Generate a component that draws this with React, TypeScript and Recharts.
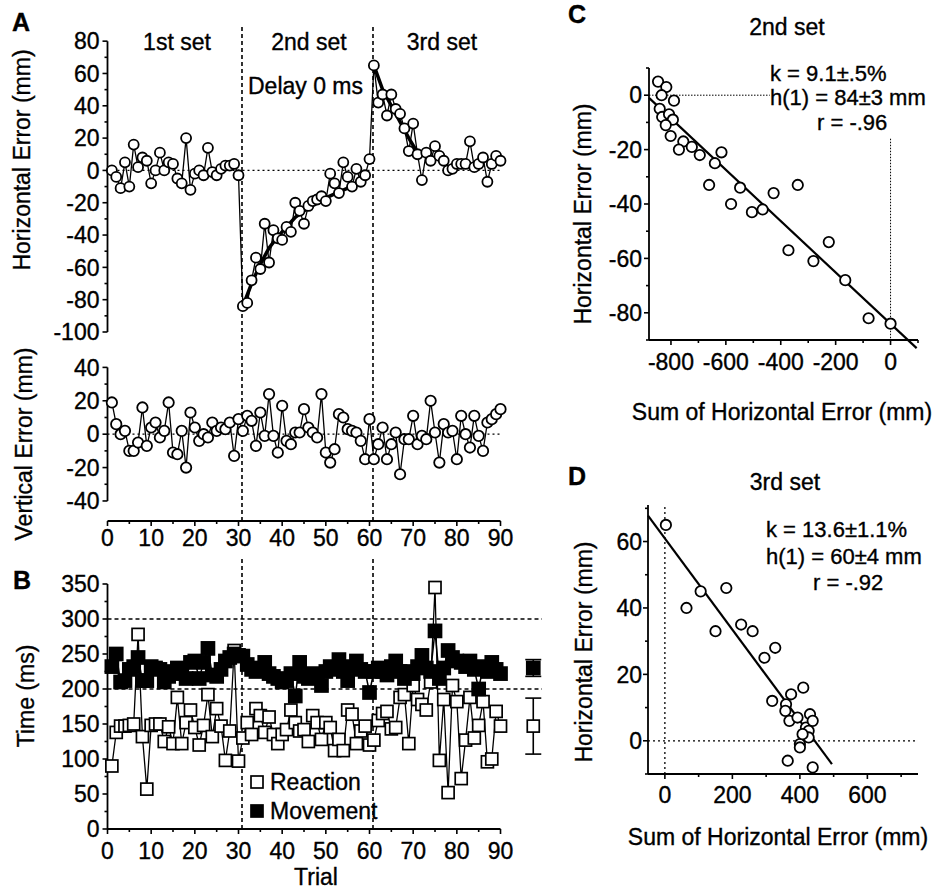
import React from 'react';
import { ComposedChart, ScatterChart, Line, Scatter, XAxis, YAxis, ReferenceLine, ErrorBar } from 'recharts';

const FONT = '"Liberation Sans", Arial, Helvetica, sans-serif';

// ---------- Panel A : horizontal error per trial (mm) ----------
const horizSet1 = [0, -4, -11, 5, -10, 16, 2, 8, 6, -8, 0, 11, 0, 5, 4, -5, -8, 20, -12, -2, 0, -3, 14, -1, -3, 1, 3, 3, 4, -3];
const horizSet2 = [-84, -82, -68, -54, -61, -33, -57, -37, -42, -43, -35, -38, -20, -25, -33, -22, -19, -18, -16, -19, -2, -8, -14, 5, -4, -10, 1, -7, -3, 7];
const horizSet3 = [65, 42, 47, 34, 47, 38, 35, 26, 12, 29, 10, -6, 11, 6, 15, 9, 6, 0, 1, 4, 4, 4, 18, 2, 4, 8, -7, 4, 9, 6];
const fit2Trials = [31, 33, 35, 37, 39, 41, 43, 46, 50, 55, 59];
const fit2Values = [-84, -70, -58, -48, -41, -35, -29, -23, -17, -11, -6];
const fit3Trials = [61, 63, 65, 67, 69, 71];
const fit3Values = [65, 50, 40, 30, 20, 11];

// ---------- Panel A : vertical error per trial (mm) ----------
const vertError = [
  19, 6, 0, 2, -10, -10, -5, 16, -7, 4,
  7, -2, 2, 19, -11, -12, 2, -20, 13, 4,
  -4, 0, -2, 7, 2, 4, 3, 7, -13, 9,
  2, 11, 8, -7, 13, -1, 24, -1, -11, 17,
  -4, -6, 1, 1, 15, 4, 1, -2, 24, -11,
  -17, -9, 12, 10, 3, 2, 1, -4, -15, 9,
  -15, -6, 4, -15, -6, 1, -24, -3, -3, 11,
  -6, -1, -3, 20, 1, -17, 6, 1, 2, -15,
  11, 0, -8, 11, -1, -10, 7, 9, 12, 15,
];

// ---------- Panel B : reaction / movement time (ms) ----------
const reactionTime = [
  90, 138, 147, 147, 148, 150, 278, 132, 57, 148,
  150, 150, 125, 146, 122, 188, 122, 152, 170, 145,
  120, 148, 192, 132, 172, 147, 98, 140, 255, 97,
  130, 152, 135, 172, 162, 138, 160, 135, 122, 135,
  142, 170, 152, 140, 142, 125, 162, 152, 128, 152,
  145, 112, 128, 112, 170, 164, 122, 140, 147, 120,
  127, 155, 165, 168, 143, 145, 188, 192, 122, 205,
  185, 178, 170, 210, 345, 98, 185, 52, 205, 182,
  72, 127, 188, 130, 148, 182, 96, 100, 168, 147,
];
const movementTime = [
  232, 250, 210, 212, 228, 232, 245, 212, 212, 232,
  230, 228, 210, 218, 225, 230, 222, 215, 238, 240,
  215, 238, 258, 220, 218, 228, 240, 245, 250, 248,
  247, 235, 228, 225, 230, 238, 222, 218, 215, 210,
  212, 222, 190, 238, 218, 215, 222, 218, 205, 225,
  232, 228, 242, 225, 212, 232, 240, 228, 225, 195,
  225, 230, 225, 220, 232, 240, 225, 215, 225, 222,
  232, 248, 230, 225, 283, 215, 230, 255, 245, 240,
  238, 232, 240, 228, 200, 232, 225, 238, 228, 222,
];
const meanReaction = [{ trial: 97.5, v: 147, err: 40 }];
const meanMovement = [{ trial: 97.5, v: 230, err: 12 }];
const setBoundaries = [30.8, 60.8];

// ---------- Panel C : 2nd set ----------
const sumC = [-847, -817, -834, -789, -841, -832, -807, -793, -819, -801, -755, -771, -724, -695, -640, -616, -661, -548, -581, -505, -466, -426, -338, -372, -281, -225, -165, -80, 0];
const errC = [5, 3, 0, -2, -5, -8, -7, -9, -11, -15, -17, -20, -19, -22, -25, -21, -33, -34, -40, -43, -42, -36, -33, -57, -61, -54, -68, -82, -84];
const regC = [{ x: -880, y: -1 }, { x: 95, y: -93 }];

// ---------- Panel D : 3rd set ----------
const sumD = [3, 64, 106, 150, 182, 226, 260, 295, 327, 318, 359, 374, 410, 357, 369, 393, 418, 430, 438, 426, 426, 400, 400, 408, 364, 438];
const errD = [65, 40, 45, 33, 46, 35, 33, 25, 28, 12, 11, 14, 16, 9, 6, 7, 4, 8, 6, 3, 1, -1, -2, 2, -6, -8];
const regD = [{ x: -50, y: 67.8 }, { x: 495, y: -7 }];

// ---------- tick lists ----------
const trialTicks = [0, 5, 10, 15, 20, 25, 30, 35, 40, 45, 50, 55, 60, 65, 70, 75, 80, 85, 90];
const trialLabels = [0, 10, 20, 30, 40, 50, 60, 70, 80, 90];
const horizTicks = [-100, -90, -80, -70, -60, -50, -40, -30, -20, -10, 0, 10, 20, 30, 40, 50, 60, 70, 80];
const horizLabels = [-100, -80, -60, -40, -20, 0, 20, 40, 60, 80];
const vertTicks = [-40, -30, -20, -10, 0, 10, 20, 30, 40];
const vertLabels = [-40, -20, 0, 20, 40];
const timeTicks = [0, 25, 50, 75, 100, 125, 150, 175, 200, 225, 250, 275, 300, 325, 350];
const timeLabels = [0, 50, 100, 150, 200, 250, 300, 350];
const cXTicks = [-800, -700, -600, -500, -400, -300, -200, -100, 0, 100];
const cXLabels = [-800, -600, -400, -200, 0];
const cYTicks = [-90, -80, -70, -60, -50, -40, -30, -20, -10, 0, 10];
const cYLabels = [-80, -60, -40, -20, 0];
const dXTicks = [0, 100, 200, 300, 400, 500, 600, 700];
const dXLabels = [0, 200, 400, 600];
const dYTicks = [-10, 0, 10, 20, 30, 40, 50, 60, 70];
const dYLabels = [0, 20, 40, 60];

const horizData = [...horizSet1, ...horizSet2, ...horizSet3].map((h, i) => ({ trial: i + 1, h }));
const fit2Data = fit2Trials.map((t, i) => ({ trial: t, h: fit2Values[i] }));
const fit3Data = fit3Trials.map((t, i) => ({ trial: t, h: fit3Values[i] }));
const vertData = vertError.map((v, i) => ({ trial: i + 1, v }));
const rtData = reactionTime.map((v, i) => ({ trial: i + 1, v }));
const mtData = movementTime.map((v, i) => ({ trial: i + 1, v }));
const cData = sumC.map((x, i) => ({ x, y: errC[i] }));
const dData = sumD.map((x, i) => ({ x, y: errD[i] }));

const FS = 23;
const TXT = { stroke: '#000', strokeWidth: 0.35 };

const makeYTick = (labels: number[], gap: number, fs = FS) => (props: any) => {
  const { x, y, payload } = props;
  const v = payload.value;
  const major = labels.includes(v);
  const len = major ? 5 : 3;
  return (
    <g>
      <line x1={x} x2={x - len} y1={y} y2={y} stroke="#000" strokeWidth={1.6} />
      {major && (
        <text x={x - gap} y={y} dy="0.36em" textAnchor="end" fontSize={fs} fontFamily={FONT} fill="#000" {...TXT}>
          {v}
        </text>
      )}
    </g>
  );
};

const makeXTick = (labels: number[], gap: number, fs = FS) => (props: any) => {
  const { x, y, payload } = props;
  const v = payload.value;
  const major = labels.includes(v);
  const len = major ? 5 : 3;
  return (
    <g>
      <line x1={x} x2={x} y1={y} y2={y + len} stroke="#000" strokeWidth={1.6} />
      {major && (
        <text x={x} y={y + gap} dy="0.71em" textAnchor="middle" fontSize={fs} fontFamily={FONT} fill="#000" {...TXT}>
          {v}
        </text>
      )}
    </g>
  );
};

const circleDot = (r: number) => (props: any) => {
  const { cx, cy, index } = props;
  if (cx == null || cy == null) return <g key={`c${index}`} />;
  return <circle key={`c${index}`} cx={cx} cy={cy} r={r} fill="#fff" stroke="#000" strokeWidth={1.8} />;
};
const squareDot = (size: number, filled: boolean) => (props: any) => {
  const { cx, cy, index } = props;
  if (cx == null || cy == null) return <g key={`s${index}`} />;
  return (
    <rect
      key={`s${index}`}
      x={cx - size / 2}
      y={cy - size / 2}
      width={size}
      height={size}
      fill={filled ? '#000' : '#fff'}
      stroke="#000"
      strokeWidth={1.7}
    />
  );
};

const abs = (left: number, top: number): React.CSSProperties => ({ position: 'absolute', left, top });

const TopPanel = () => (
  <div style={abs(0, 0)}>
    <ComposedChart width={520} height={345} margin={{ top: 25, right: 19.5, bottom: 13, left: 0 }}>
      <XAxis type="number" dataKey="trial" domain={[0, 90]} hide height={0} />
      <YAxis
        type="number"
        domain={[-100, 90]}
        ticks={horizTicks}
        interval={0}
        width={107.5}
        axisLine={false}
        tickLine={false}
        tickSize={0}
        tickMargin={0}
        tick={makeYTick(horizLabels, 8)}
      />
      <ReferenceLine segment={[{ x: 0, y: -100 }, { x: 0, y: 80 }]} stroke="#000" strokeWidth={1.8} ifOverflow="visible" />
      <ReferenceLine segment={[{ x: 0, y: 0 }, { x: 90, y: 0 }]} stroke="#000" strokeWidth={1.3} strokeDasharray="2 3" ifOverflow="visible" />
      {setBoundaries.map((b) => (
        <ReferenceLine key={b} x={b} stroke="#000" strokeWidth={1.6} strokeDasharray="4 3" />
      ))}
      <Line data={fit2Data} dataKey="h" stroke="#000" strokeWidth={3.5} dot={false} isAnimationActive={false} />
      <Line data={fit3Data} dataKey="h" stroke="#000" strokeWidth={3.5} dot={false} isAnimationActive={false} />
      <Line data={horizData} dataKey="h" stroke="#000" strokeWidth={1.3} dot={circleDot(5)} isAnimationActive={false} />
    </ComposedChart>
  </div>
);

const VertPanel = () => (
  <div style={abs(0, 320)}>
    <ComposedChart width={520} height={230} margin={{ top: 12, right: 19.5, bottom: 4, left: 0 }}>
      <XAxis
        type="number"
        dataKey="trial"
        domain={[0, 90]}
        ticks={trialTicks}
        interval={0}
        height={25}
        axisLine={{ stroke: '#000', strokeWidth: 1.8 }}
        tickLine={false}
        tickSize={0}
        tickMargin={0}
        tick={makeXTick(trialLabels, 9)}
      />
      <YAxis
        type="number"
        domain={[-52, 61.2]}
        ticks={vertTicks}
        interval={0}
        width={107.5}
        axisLine={false}
        tickLine={false}
        tickSize={0}
        tickMargin={0}
        tick={makeYTick(vertLabels, 8)}
      />
      <ReferenceLine segment={[{ x: 0, y: -40 }, { x: 0, y: 40 }]} stroke="#000" strokeWidth={1.8} ifOverflow="visible" />
      <ReferenceLine segment={[{ x: 0, y: 0 }, { x: 90, y: 0 }]} stroke="#000" strokeWidth={1.3} strokeDasharray="2 3" ifOverflow="visible" />
      {setBoundaries.map((b) => (
        <ReferenceLine key={b} x={b} stroke="#000" strokeWidth={1.6} strokeDasharray="4 3" />
      ))}
      <Line data={vertData} dataKey="v" stroke="#000" strokeWidth={1.3} dot={circleDot(5.2)} isAnimationActive={false} />
    </ComposedChart>
  </div>
);

const TimePanel = () => (
  <div style={abs(0, 540)}>
    <ComposedChart width={560} height={352} margin={{ top: 16, right: 18, bottom: 23, left: 0 }}>
      <XAxis
        type="number"
        dataKey="trial"
        domain={[0, 99.5]}
        ticks={trialTicks}
        interval={0}
        height={40}
        axisLine={false}
        tickLine={false}
        tickSize={0}
        tickMargin={0}
        tick={makeXTick(trialLabels, 14)}
      />
      <YAxis
        type="number"
        domain={[0, 390]}
        ticks={timeTicks}
        interval={0}
        width={107.5}
        axisLine={false}
        tickLine={false}
        tickSize={0}
        tickMargin={0}
        tick={makeYTick(timeLabels, 8)}
      />
      <ReferenceLine segment={[{ x: 0, y: 0 }, { x: 0, y: 350 }]} stroke="#000" strokeWidth={1.8} ifOverflow="visible" />
      <ReferenceLine segment={[{ x: 0, y: 0 }, { x: 90, y: 0 }]} stroke="#000" strokeWidth={1.8} ifOverflow="visible" />
      <ReferenceLine y={300} stroke="#000" strokeWidth={1.4} strokeDasharray="4 3" />
      <ReferenceLine y={200} stroke="#000" strokeWidth={1.4} strokeDasharray="4 3" />
      {setBoundaries.map((b) => (
        <ReferenceLine key={b} x={b} stroke="#000" strokeWidth={1.6} strokeDasharray="4 3" />
      ))}
      <Line data={rtData} dataKey="v" stroke="#000" strokeWidth={1.3} dot={squareDot(12, false)} isAnimationActive={false} />
      <Line data={mtData} dataKey="v" stroke="#000" strokeWidth={1.5} dot={squareDot(13, true)} isAnimationActive={false} />
      <Scatter data={meanReaction} dataKey="v" shape={squareDot(12, false)} isAnimationActive={false}>
        <ErrorBar dataKey="err" direction="y" width={8} stroke="#000" strokeWidth={1.6} />
      </Scatter>
      <Scatter data={meanMovement} dataKey="v" shape={squareDot(13, true)} isAnimationActive={false}>
        <ErrorBar dataKey="err" direction="y" width={8} stroke="#000" strokeWidth={1.6} />
      </Scatter>
    </ComposedChart>
  </div>
);

const PanelC = () => (
  <div style={abs(560, 40)}>
    <ScatterChart width={389} height={400} margin={{ top: 28, right: 31, bottom: 60, left: 0 }}>
      <XAxis
        type="number"
        dataKey="x"
        domain={[-880, 100]}
        ticks={cXTicks}
        interval={0}
        height={40}
        axisLine={{ stroke: '#000', strokeWidth: 1.8 }}
        tickLine={false}
        tickSize={0}
        tickMargin={0}
        tick={makeXTick(cXLabels, 14)}
      />
      <YAxis
        type="number"
        dataKey="y"
        domain={[-90, 10]}
        ticks={cYTicks}
        interval={0}
        width={89}
        axisLine={{ stroke: '#000', strokeWidth: 1.8 }}
        tickLine={false}
        tickSize={0}
        tickMargin={0}
        tick={makeYTick(cYLabels, 7)}
      />
      <ReferenceLine segment={[{ x: -880, y: 0 }, { x: -440, y: 0 }]} stroke="#000" strokeWidth={1} strokeDasharray="1.5 1.5" ifOverflow="visible" />
      <ReferenceLine segment={[{ x: 0, y: -16 }, { x: 0, y: -90 }]} stroke="#000" strokeWidth={1} strokeDasharray="1.5 1.5" ifOverflow="visible" />
      <ReferenceLine segment={regC} stroke="#000" strokeWidth={2.2} ifOverflow="visible" />
      <Scatter data={cData} shape={circleDot(5.2)} isAnimationActive={false} />
    </ScatterChart>
  </div>
);

const PanelD = () => (
  <div style={abs(560, 470)}>
    <ScatterChart width={389} height={422} margin={{ top: 35, right: 31, bottom: 78, left: 0 }}>
      <XAxis
        type="number"
        dataKey="x"
        domain={[-50, 750]}
        ticks={dXTicks}
        interval={0}
        height={40}
        axisLine={{ stroke: '#000', strokeWidth: 1.8 }}
        tickLine={false}
        tickSize={0}
        tickMargin={0}
        tick={makeXTick(dXLabels, 13)}
      />
      <YAxis
        type="number"
        dataKey="y"
        domain={[-10, 71]}
        ticks={dYTicks}
        interval={0}
        width={88}
        axisLine={{ stroke: '#000', strokeWidth: 1.8 }}
        tickLine={false}
        tickSize={0}
        tickMargin={0}
        tick={makeYTick(dYLabels, 6)}
      />
      <ReferenceLine segment={[{ x: -50, y: 0 }, { x: 750, y: 0 }]} stroke="#000" strokeWidth={1.3} strokeDasharray="2 3" ifOverflow="visible" />
      <ReferenceLine segment={[{ x: 0, y: -10 }, { x: 0, y: 71 }]} stroke="#000" strokeWidth={1.3} strokeDasharray="2 3" ifOverflow="visible" />
      <ReferenceLine segment={regD} stroke="#000" strokeWidth={2.2} ifOverflow="visible" />
      <Scatter data={dData} shape={circleDot(5.2)} isAnimationActive={false} />
    </ScatterChart>
  </div>
);

const T = (p: any) => <text fontFamily={FONT} fill="#000" {...TXT} {...p} />;

const Overlay = () => (
  <svg width={949} height={892} style={{ position: 'absolute', left: 0, top: 0, pointerEvents: 'none' }}>
    {/* panel letters */}
    <T x={12} y={31} fontSize={25} fontWeight="bold">A</T>
    <T x={13} y={589} fontSize={25} fontWeight="bold">B</T>
    <T x={568} y={23} fontSize={25} fontWeight="bold">C</T>
    <T x={568} y={485} fontSize={25} fontWeight="bold">D</T>
    {/* panel A texts */}
    <T x={177} y={50} fontSize={FS} textAnchor="middle">1st set</T>
    <T x={309} y={50} fontSize={FS} textAnchor="middle">2nd set</T>
    <T x={442} y={50} fontSize={FS} textAnchor="middle">3rd set</T>
    <T x={248} y={94} fontSize={FS}>Delay 0 ms</T>
    <T x={30} y={160} fontSize={FS} textAnchor="middle" transform="rotate(-90 30 160)">Horizontal Error (mm)</T>
    <T x={32} y={444} fontSize={FS} textAnchor="middle" transform="rotate(-90 32 444)">Vertical Error (mm)</T>
    <T x={34} y={696} fontSize={FS} textAnchor="middle" transform="rotate(-90 34 696)">Time (ms)</T>
    <T x={316} y={885} fontSize={FS} textAnchor="middle">Trial</T>
    {/* panel B legend */}
    <rect x={251} y={776} width={12} height={12} fill="#fff" stroke="#000" strokeWidth={1.7} />
    <T x={270} y={790} fontSize={FS}>Reaction</T>
    <rect x={251} y={805} width={12} height={12} fill="#000" stroke="#000" strokeWidth={1.7} />
    <T x={270} y={819} fontSize={FS}>Movement</T>
    {/* panel C texts */}
    <T x={787} y={35} fontSize={FS} textAnchor="middle">2nd set</T>
    <T x={770} y={81} fontSize={22}>k = 9.1±.5%</T>
    <T x={770} y={105} fontSize={22}>h(1) = 84±3 mm</T>
    <T x={817} y={130} fontSize={22}>r = -.96</T>
    <T x={591} y={214} fontSize={FS} textAnchor="middle" transform="rotate(-90 591 214)">Horizontal Error (mm)</T>
    <T x={782} y={420} fontSize={FS} textAnchor="middle">Sum of Horizontal Error (mm)</T>
    {/* panel D texts */}
    <T x={785} y={490} fontSize={FS} textAnchor="middle">3rd set</T>
    <T x={766} y={537} fontSize={22}>k = 13.6±1.1%</T>
    <T x={766} y={564} fontSize={22}>h(1) = 60±4 mm</T>
    <T x={813} y={590} fontSize={22}>r = -.92</T>
    <T x={592} y={652} fontSize={FS} textAnchor="middle" transform="rotate(-90 592 652)">Horizontal Error (mm)</T>
    <T x={778} y={845} fontSize={FS} textAnchor="middle">Sum of Horizontal Error (mm)</T>
  </svg>
);

export default function App() {
  return (
    <div style={{ position: 'absolute', left: 0, top: 0, width: 949, height: 892, background: '#fff', fontFamily: FONT, overflow: 'hidden' }}>
      <TopPanel />
      <VertPanel />
      <TimePanel />
      <PanelC />
      <PanelD />
      <Overlay />
    </div>
  );
}
